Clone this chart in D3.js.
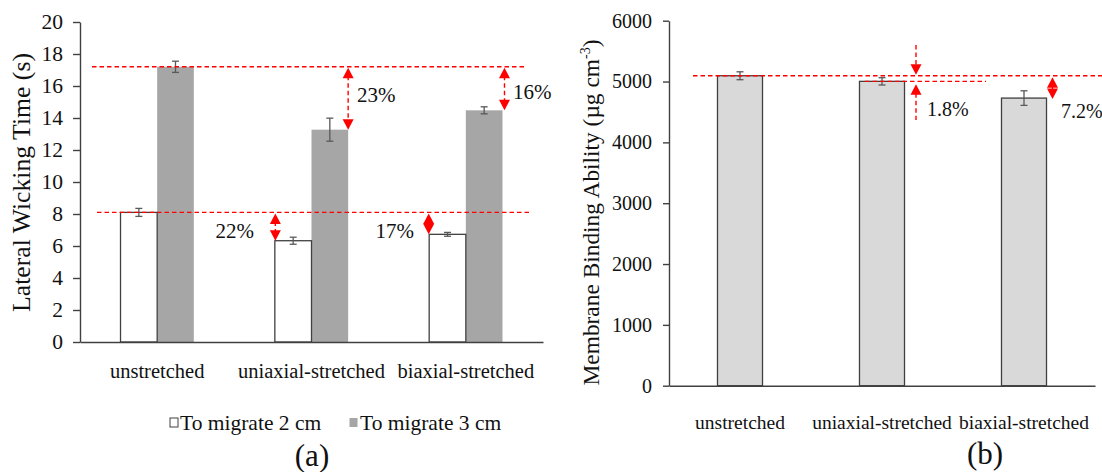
<!DOCTYPE html>
<html><head><meta charset="utf-8">
<script src="https://cdn.jsdelivr.net/npm/d3@7"></script>
<style>
html,body{margin:0;padding:0;background:#fff;}
svg{display:block;}
svg text{font-family:"Liberation Serif","Times New Roman",Times,serif !important;}
</style></head><body>
<svg id="chart" width="1102" height="472"></svg>
<script>
// Categories shared by both panels
const categories = ["unstretched", "uniaxial-stretched", "biaxial-stretched"];

// (a) lateral wicking time, seconds
const seriesNames = ["To migrate 2 cm", "To migrate 3 cm"];
const wick2cm = [8.1, 6.33, 6.73];
const wick2cmErr = [0.25, 0.22, 0.12];
const wick3cm = [17.2, 13.27, 14.48];
const wick3cmErr = [0.35, 0.72, 0.22];
const wickTicks = [0, 2, 4, 6, 8, 10, 12, 14, 16, 18, 20];
const wickDropLabels = ["22%", "17%", "23%", "16%"];

// (b) membrane binding ability, µg cm^-3
const binding = [5095, 5003, 4728];
const bindingErr = [65, 60, 120];
const bindingTicks = [0, 1000, 2000, 3000, 4000, 5000, 6000];
const bindingDropLabels = ["1.8%", "7.2%"];

const svg = d3.select("#chart");
const RED = "#ff0000";
const AXIS = "#404040";
const ERR = "#595959";
const TXT = "#111";

function errorBar(g, x, y0, y1, cap) {
  g.append("line").attr("x1", x).attr("x2", x).attr("y1", y0).attr("y2", y1)
    .attr("stroke", ERR).attr("stroke-width", 1.3);
  [y0, y1].forEach(y => g.append("line").attr("x1", x - cap).attr("x2", x + cap)
    .attr("y1", y).attr("y2", y).attr("stroke", ERR).attr("stroke-width", 1.3));
}

function dashedLine(g, x1, x2, y1, y2) {
  g.append("line").attr("x1", x1).attr("x2", x2).attr("y1", y1).attr("y2", y2)
    .attr("stroke", RED).attr("stroke-width", 1.4).attr("stroke-dasharray", "4.5,3");
}

// arrow head with tip at (x, y), pointing up (dir=-1) or down (dir=1)
function head(g, x, y, dir, len = 10.5, w = 5.5) {
  g.append("path")
    .attr("d", `M${x},${y} L${x - w},${y - dir * len} L${x + w},${y - dir * len} Z`)
    .attr("fill", RED);
}

function doubleArrow(g, x, yTop, yBot) {
  dashedLine(g, x, x, yTop + 8, yBot - 8);
  head(g, x, yTop, -1);
  head(g, x, yBot, 1);
}

function label(g, x, y, text, size, anchor = "start") {
  g.append("text").attr("x", x).attr("y", y).attr("text-anchor", anchor)
    .attr("font-size", size).attr("fill", TXT).text(text);
}

// scale a title's font so that it spans the given length
function fitText(sel, size, length) {
  const w = sel.node().getComputedTextLength();
  if (w > 0) sel.attr("font-size", size * length / w);
}

/* ---------------- Panel (a) ---------------- */
const gA = svg.append("g");
const xA = d3.scaleBand().domain(categories).range([80, 543]).paddingInner(0.525).paddingOuter(0.2625);
const xSub = d3.scaleBand().domain(seriesNames).range([0, xA.bandwidth()]);
const yA = d3.scaleLinear().domain([0, 20]).range([342, 22]);

// bars: 3 cm (grey) first so the white bar outline sits on top
categories.forEach((c, i) => {
  gA.append("rect")
    .attr("x", xA(c) + xSub(seriesNames[1])).attr("width", xSub.bandwidth())
    .attr("y", yA(wick3cm[i])).attr("height", yA(0) - yA(wick3cm[i]))
    .attr("fill", "#a6a6a6");
  gA.append("rect")
    .attr("x", xA(c) + xSub(seriesNames[0])).attr("width", xSub.bandwidth())
    .attr("y", yA(wick2cm[i])).attr("height", yA(0) - yA(wick2cm[i]))
    .attr("fill", "#fff").attr("stroke", AXIS).attr("stroke-width", 1.3);
  errorBar(gA, xA(c) + xSub(seriesNames[0]) + xSub.bandwidth() / 2,
    yA(wick2cm[i] - wick2cmErr[i]), yA(wick2cm[i] + wick2cmErr[i]), 3.5);
  errorBar(gA, xA(c) + xSub(seriesNames[1]) + xSub.bandwidth() / 2,
    yA(wick3cm[i] - wick3cmErr[i]), yA(wick3cm[i] + wick3cmErr[i]), 3.5);
});

// axes
const axA = gA.append("g").attr("transform", "translate(80,0)")
  .call(d3.axisLeft(yA).tickValues(wickTicks).tickSize(7).tickSizeOuter(0).tickPadding(10));
axA.selectAll("text").attr("font-size", 21.5).attr("fill", TXT);
axA.selectAll("line,path").attr("stroke", AXIS).attr("stroke-width", 1.4);

const axAx = gA.append("g").attr("transform", "translate(0,342)")
  .call(d3.axisBottom(xA).tickSize(0).tickSizeOuter(0).tickPadding(21.5));
axAx.selectAll("text").attr("font-size", 20.5).attr("fill", TXT);
axAx.select("path").attr("stroke", AXIS).attr("stroke-width", 1.4);

const titleA = gA.append("text")
  .attr("transform", "translate(30,182.5) rotate(-90)")
  .attr("text-anchor", "middle").attr("font-size", 25).attr("fill", TXT)
  .text("Lateral Wicking Time (s)");
fitText(titleA, 25, 259);

// reference lines from the unstretched membrane
const ref2 = yA(wick2cm[0]), ref3 = yA(wick3cm[0]);
dashedLine(gA, 92, 527, ref3, ref3);
dashedLine(gA, 97, 532, ref2, ref2);

const wLeft = c => xA(c) + xSub(seriesNames[0]);
const gRight = c => xA(c) + xSub(seriesNames[1]) + xSub.bandwidth();
doubleArrow(gA, wLeft(categories[1]) + 0.5, ref2 + 1, yA(wick2cm[1]));
doubleArrow(gA, wLeft(categories[2]) - 0.5, ref2 + 1, yA(wick2cm[2]));
doubleArrow(gA, gRight(categories[1]), ref3 + 1, yA(wick3cm[1]));
doubleArrow(gA, gRight(categories[2]) + 2, ref3 + 1, yA(wick3cm[2]));

label(gA, 254, 237.5, wickDropLabels[0], 21, "end");
label(gA, 414, 237.5, wickDropLabels[1], 21, "end");
label(gA, 357, 102, wickDropLabels[2], 21);
label(gA, 513, 98.5, wickDropLabels[3], 21);

// legend
gA.append("rect").attr("x", 170).attr("y", 418).attr("width", 8).attr("height", 9)
  .attr("fill", "#fff").attr("stroke", AXIS).attr("stroke-width", 1);
label(gA, 180, 430, seriesNames[0], 21.5);
gA.append("rect").attr("x", 349.5).attr("y", 418).attr("width", 8).attr("height", 9)
  .attr("fill", "#a6a6a6");
label(gA, 360, 430, seriesNames[1], 21.5);

label(gA, 312, 466, "(a)", 31, "middle");

/* ---------------- Panel (b) ---------------- */
const gB = svg.append("g");
const xB = d3.scaleBand().domain(categories).range([669, 1095]).paddingInner(0.683).paddingOuter(0.3415);
const yB = d3.scaleLinear().domain([0, 6000]).range([385.7, 20.7]);

categories.forEach((c, i) => {
  gB.append("rect")
    .attr("x", xB(c)).attr("width", xB.bandwidth())
    .attr("y", yB(binding[i])).attr("height", yB(0) - yB(binding[i]))
    .attr("fill", "#d9d9d9").attr("stroke", AXIS).attr("stroke-width", 1.3);
  errorBar(gB, xB(c) + xB.bandwidth() / 2,
    yB(binding[i] - bindingErr[i]), yB(binding[i] + bindingErr[i]), 3.5);
});

const axB = gB.append("g").attr("transform", "translate(669,0)")
  .call(d3.axisLeft(yB).tickValues(bindingTicks).tickFormat(d3.format("d")).tickSize(6).tickSizeOuter(0).tickPadding(11));
axB.selectAll("text").attr("font-size", 20).attr("fill", TXT);
axB.selectAll("line,path").attr("stroke", AXIS).attr("stroke-width", 1.4);

const axBx = gB.append("g").attr("transform", "translate(0,385.7)")
  .call(d3.axisBottom(xB).tickSize(0).tickSizeOuter(0).tickPadding(29));
axBx.selectAll("text").attr("font-size", 19.5).attr("fill", TXT);
axBx.select("path").attr("stroke", AXIS).attr("stroke-width", 1.4);

const titleB = gB.append("text")
  .attr("transform", "translate(599,212.5) rotate(-90)")
  .attr("text-anchor", "middle").attr("font-size", 23.5).attr("fill", TXT);
titleB.append("tspan").text("Membrane Binding Ability (\u00b5g cm");
titleB.append("tspan").attr("font-size", 14).attr("dy", -9).text("-3");
titleB.append("tspan").attr("dy", 9).text(")");
fitText(titleB, 23.5, 346);

const refB0 = yB(binding[0]), refB1 = yB(binding[1]);
dashedLine(gB, 693, 1102, refB0, refB0);
dashedLine(gB, 865, 986, refB1, refB1);

// converging arrows marking the small uniaxial drop
const xU = 916;
dashedLine(gB, xU, xU, 45, refB0 - 10);
head(gB, xU, refB0 - 1, 1);
dashedLine(gB, xU, xU, refB1 + 12, 120);
head(gB, xU, refB1 + 3, -1);
label(gB, 927, 116, bindingDropLabels[0], 20);

doubleArrow(gB, 1052.5, refB0 + 1.5, yB(binding[2]) + 1);
label(gB, 1061, 117.5, bindingDropLabels[1], 20);

label(gB, 985, 464, "(b)", 31, "middle");
</script>
</body></html>
